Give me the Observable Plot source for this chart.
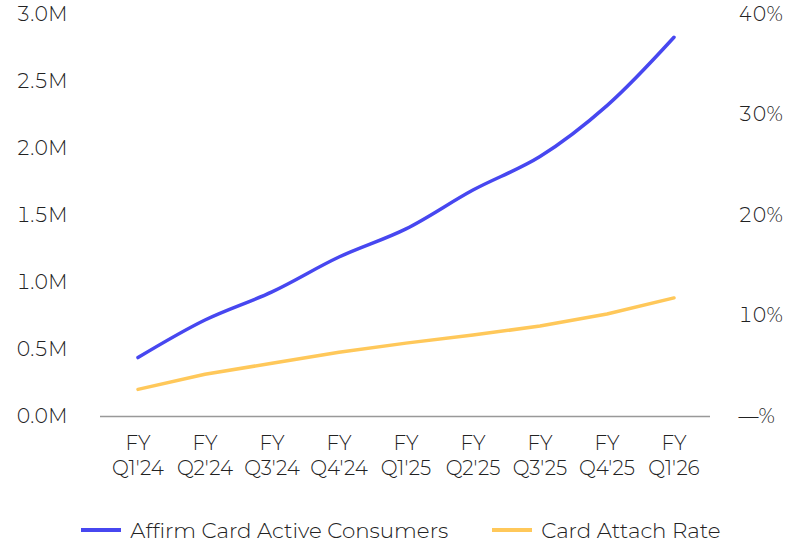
<!DOCTYPE html>
<html>
<head>
<meta charset="utf-8">
<script src="https://cdn.jsdelivr.net/npm/d3@7"></script>
<script src="https://cdn.jsdelivr.net/npm/@observablehq/plot@0.6"></script>
<style>
  body { margin: 0; background: #fff; font-family: Montserrat, "Open Sans", sans-serif; font-weight: 300; }
  #chart svg { display: block; }
  .legend { display: flex; justify-content: center; align-items: center; height: 40px; margin-top: 20px; font-size: 21.4px; color: #222; }
  .item { display: flex; align-items: center; margin: 0 22px; }
  .sw { width: 40px; height: 4px; margin-right: 9px; }
</style>
</head>
<body>
<div id="chart"></div>
<div class="legend">
  <div class="item"><span class="sw" style="background:#4747F0"></span><span id="l1"></span></div>
  <div class="item"><span class="sw" style="background:#FFC85A"></span><span id="l2"></span></div>
</div>
<script>
const quarters = ["FY Q1'24","FY Q2'24","FY Q3'24","FY Q4'24","FY Q1'25","FY Q2'25","FY Q3'25","FY Q4'25","FY Q1'26"];
const activeConsumers = [0.44, 0.72, 0.93, 1.19, 1.40, 1.69, 1.94, 2.32, 2.83]; // millions
const attachRate = [2.7, 4.2, 5.3, 6.4, 7.3, 8.1, 9.0, 10.2, 11.8]; // percent
const leftTicks = [0, 0.5, 1.0, 1.5, 2.0, 2.5, 3.0];
const rightTicks = [0, 10, 20, 30, 40];
const seriesNames = ["Affirm Card Active Consumers", "Card Attach Rate"];
const colors = ["#4747F0", "#FFC85A"];

const ratio = 3.0 / 40; // millions per percent (right axis 40% aligns with 3.0M)
const dataA = quarters.map((q, i) => ({q, v: activeConsumers[i]}));
const dataB = quarters.map((q, i) => ({q, v: attachRate[i] * ratio}));

document.getElementById("l1").textContent = seriesNames[0];
document.getElementById("l2").textContent = seriesNames[1];

const chart = Plot.plot({
  width: 802,
  height: 490,
  marginTop: 14,
  marginBottom: 74,
  marginLeft: 100,
  marginRight: 92,
  style: {fontFamily: "Montserrat, 'Open Sans', sans-serif", fontSize: "20px", fontWeight: 300, color: "#222"},
  x: {type: "band", domain: quarters, padding: 0},
  y: {domain: [0, 3.0]},
  marks: [
    Plot.axisY(leftTicks, {anchor: "left", tickSize: 0, tickPadding: 33, tickFormat: d => d.toFixed(1) + "M", label: null, fontSize: 20}),
    Plot.axisY(rightTicks.map(t => t * ratio), {anchor: "right", tickSize: 0, tickPadding: 28, textAnchor: "start",
      tickFormat: (d, i) => rightTicks[i] === 0 ? "—%" : rightTicks[i] + "%", label: null, fontSize: 20}),
    Plot.axisX({tickSize: 0, tickPadding: 16, label: null, lineHeight: 1.25, tickFormat: d => d.replace(" ", "\n"), fontSize: 20}),
    Plot.ruleY([0], {stroke: "#999", strokeWidth: 1.5}),
    Plot.line(dataB, {x: "q", y: "v", stroke: colors[1], strokeWidth: 3.5}),
    Plot.line(dataA, {x: "q", y: "v", stroke: colors[0], strokeWidth: 3.5, curve: "catmull-rom"})
  ]
});
document.getElementById("chart").appendChild(chart);
</script>
</body>
</html>
